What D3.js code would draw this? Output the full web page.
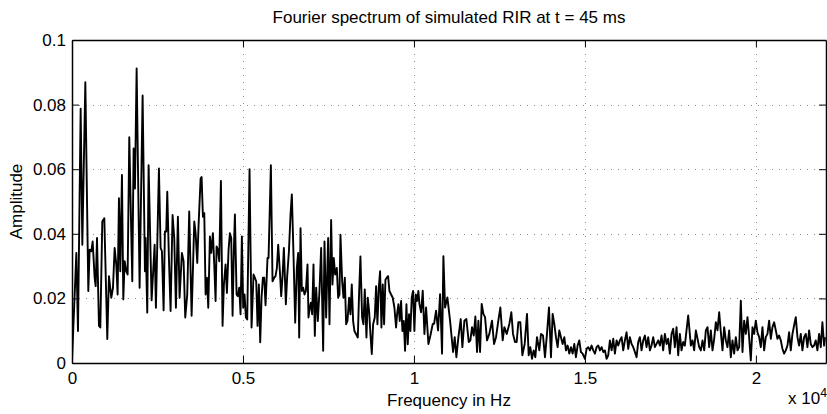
<!DOCTYPE html>
<html>
<head>
<meta charset="utf-8">
<script src="https://cdn.jsdelivr.net/npm/d3@7"></script>
<style>
  html, body { margin: 0; padding: 0; background: #fff; }
  svg { display: block; }
  text { font-family: "Liberation Sans", Arial, Helvetica, sans-serif; fill: #000; }
</style>
</head>
<body>
<svg id="chart" width="827" height="414"></svg>
<script>
// ---- data ----
const titleText = "Fourier spectrum of simulated RIR at t = 45 ms";
const xLabel = "Frequency in Hz";
const yLabel = "Amplitude";
const xTickValues = [0, 5000, 10000, 15000, 20000];
const xTickLabels = ["0", "0.5", "1", "1.5", "2"];
const yTickValues = [0, 0.02, 0.04, 0.06, 0.08, 0.1];
const yTickLabels = ["0", "0.02", "0.04", "0.06", "0.08", "0.1"];
const xDomain = [0, 22050];
const yDomain = [0, 0.1];

const frequencyHz = [
  0,127,175,253,302,390,477,516,565,604, 662,692,731,789,828,886,945,1032,1081,1149,
  1198,1247,1295,1334,1373,1412,1461,1500,1539,1588, 1627,1675,1763,1802,1841,1890,1977,2065,2133,2153,
  2201,2240,2328,2416,2454,2542,2591,2630,2679,2717, 2756,2786,2834,2883,2941,2990,3039,3097,3146,3214,
  3263,3312,3370,3428,
  3498,3576,3615,3663,3702,3761,3790,3829,3868,3907, 3946,3985,4033,4072,4121,4160,4199,4228,4267,4306,
  4355,4403,4442,4491,4530,4579,4618,4657,4696,4735, 4764,4813,4852,4890,4929,4968,5007,5046,5085,5124,
  5192,5251,5309,5348,5387,5426,5465,5504,5543,5582, 5621,5660,5718,5748,5816,5864,5913,5952,5991,6030,
  6079,6118,6157,6196,6254,6293,6342,6390,6429,6478, 6527,6575,6614,6644,6683,6722,6761,6800,6839,6887,
  6916,
  6945,6984,7023,7062,7101,7140,7189,7237,7286,7345, 7384,7432,7491,7530,7578,7617,7656,7695,7744,7783,
  7822,7851,7900,7939,7978,8017,8056,8104,8143,8182, 8221,8260,8309,8358,8396,8435,8484,8523,8562,8611,
  8650,8689,8728,8767,8806,8854,8893,8932,8971,9010, 9049,9088,9127,9166,9205,9244,9283,9332,9380,9429,
  9477,9507,9546,9585,9624,9663,9702,9740,9780,9819, 9857,9896,9935,9974,10013,10052,10091,10130,
  10160,10209,10257,10306,10355,10423,10481,10550,10589,10647, 10705,10764,10822,10861,10910,10978,11056,11144,11192,11241,
  11300,11368,11416,11475,11533,11602,11650,11699,11748,11796, 11845,11884,11933,11981,12030,12079,12137,12205,12283,12342,
  12400,12468,12527,12595,12644,12712,12790,12848,12897,12955, 13004,13053,13111,13170,13238,13306,13355,13403,13452,13501,
  13550,13598,13666,13715,13774,13832,13890,13949,
  14007,14056,14104,14153,14202,14250,14299,14348,14397,14445, 14494,14543,14591,14640,14689,14737,14786,14835,14884,14932,
  15000,15049,15098,15146,15195,15244,15293,15341,15390,15439, 15487,15536,15585,15633,15682,15731,15780,15828,15877,15926,
  15974,16023,16072,16120,16169,16218,16267,16315,16364,16413, 16461,16510,16559,16607,16656,16705,16754,16802,16851,16900,
  16948,16997,17046,17094,17143,17192,17241,17289,17338,17387, 17435,17484,17533,17581,17630,17679,17728,17776,17825,17874,
  17922,17971,18020,
  18098,18147,18195,18244,18293,18341,18390,18439,18488,18536, 18585,18634,18682,18731,18780,18828,18877,18926,18975,19023,
  19072,19121,19169,19218,19267,19315,19364,19413,19462,19510, 19559,19608,19656,19705,19754,19802,19851,19900,19949,19997,
  20046,20095,20143,20192,20241,20289,20338,20387,20436,20484, 20533,20582,20630,20679,20728,20776,20825,20874,20923,20971,
  21020,21069,21117,21166,21215,21263,21312,21361,21410,21458, 21507,21556,21604,21653,21702,21750,21799,21848,21897,21945,
  21994,22023
];

const amplitude = [
  0.0007,0.0341,0.0099,0.0787,0.0366,0.0869,0.0223,0.0351,0.0346,0.0376, 0.0264,0.0238,0.0387,0.0115,0.0110,0.0438,0.0448,0.0074,0.0269,0.0202,
  0.0233,0.0356,0.0305,0.0212,0.0510,0.0284,0.0582,0.0197,0.0315,0.0284, 0.0274,0.0699,0.0253,0.0664,0.0540,0.0912,0.0233,0.0828,0.0284,0.0387,
  0.0156,0.0612,0.0194,0.0366,0.0171,0.0602,0.0356,0.0346,0.0163,0.0407, 0.0407,0.0530,0.0325,0.0161,0.0458,0.0387,0.0171,0.0453,0.0202,0.0341,
  0.0315,0.0141,0.0212,0.0469,
  0.0146,0.0438,0.0402,0.0310,0.0428,0.0571,0.0576,0.0453,0.0464,0.0212, 0.0264,0.0171,0.0392,0.0341,0.0402,0.0305,0.0192,0.0361,0.0351,0.0315,
  0.0564,0.0115,0.0243,0.0305,0.0217,0.0351,0.0402,0.0387,0.0146,0.0356, 0.0460,0.0212,0.0207,0.0233,0.0151,0.0392,0.0171,0.0212,0.0141,0.0135,
  0.0600,0.0110,0.0274,0.0264,0.0253,0.0115,0.0243,0.0064,0.0202,0.0264, 0.0264,0.0179,0.0325,0.0325,0.0612,0.0253,0.0264,0.0269,0.0294,0.0366,
  0.0284,0.0207,0.0269,0.0356,0.0182,0.0269,0.0343,0.0458,0.0522,0.0333, 0.0125,0.0294,0.0341,0.0079,0.0417,0.0223,0.0233,0.0212,0.0223,0.0305,
  0.0141,
  0.0166,0.0187,0.0151,0.0305,0.0084,0.0233,0.0130,0.0223,0.0356,0.0038, 0.0376,0.0141,0.0387,0.0120,0.0443,0.0243,0.0325,0.0274,0.0294,0.0202,
  0.0212,0.0397,0.0253,0.0202,0.0264,0.0120,0.0130,0.0202,0.0151,0.0243, 0.0130,0.0099,0.0089,0.0079,0.0217,0.0330,0.0141,0.0120,0.0228,0.0079,
  0.0202,0.0161,0.0089,0.0028,0.0120,0.0141,0.0238,0.0120,0.0233,0.0284, 0.0110,0.0243,0.0120,0.0258,0.0264,0.0269,0.0223,0.0212,0.0202,0.0171,
  0.0110,0.0151,0.0182,0.0130,0.0192,0.0099,0.0130,0.0038,0.0182,0.0058, 0.0151,0.0099,0.0202,0.0223,0.0099,0.0212,0.0192,0.0223,
  0.0183,0.0157,0.0224,0.0090,0.0172,0.0059,0.0085,0.0121,0.0121,0.0162, 0.0101,0.0213,0.0029,0.0331,0.0172,0.0203,0.0131,0.0034,0.0080,0.0018,
  0.0080,0.0136,0.0049,0.0131,0.0136,0.0065,0.0070,0.0111,0.0085,0.0144, 0.0034,0.0131,0.0034,0.0183,0.0152,0.0142,0.0070,0.0090,0.0131,0.0059,
  0.0080,0.0131,0.0172,0.0070,0.0111,0.0090,0.0121,0.0157,0.0090,0.0065, 0.0065,0.0126,0.0126,0.0024,0.0059,0.0152,0.0024,0.0049,0.0013,0.0039,
  0.0018,0.0080,0.0039,0.0090,0.0085,0.0018,0.0090,0.0172,
  0.0018,0.0152,0.0121,0.0080,0.0049,0.0101,0.0080,0.0059,0.0080,0.0039, 0.0054,0.0029,0.0049,0.0029,0.0059,0.0018,0.0054,0.0070,0.0034,0.0029,
  0.0013,0.0044,0.0049,0.0039,0.0054,0.0039,0.0029,0.0049,0.0054,0.0039, 0.0049,0.0034,0.0039,0.0013,0.0024,0.0070,0.0039,0.0075,0.0029,0.0070,
  0.0054,0.0070,0.0080,0.0039,0.0070,0.0095,0.0044,0.0080,0.0059,0.0049, 0.0034,0.0018,0.0065,0.0080,0.0039,0.0070,0.0085,0.0049,0.0080,0.0039,
  0.0054,0.0080,0.0049,0.0059,0.0070,0.0054,0.0085,0.0039,0.0090,0.0059, 0.0075,0.0029,0.0090,0.0106,0.0049,0.0111,0.0024,0.0090,0.0039,0.0065,
  0.0054,0.0101,0.0147,
  0.0054,0.0070,0.0039,0.0101,0.0075,0.0049,0.0039,0.0070,0.0039,0.0101, 0.0111,0.0049,0.0101,0.0039,0.0075,0.0126,0.0101,0.0157,0.0095,0.0039,
  0.0111,0.0070,0.0049,0.0101,0.0018,0.0070,0.0029,0.0080,0.0039,0.0049, 0.0193,0.0034,0.0131,0.0090,0.0142,0.0080,0.0008,0.0111,0.0090,0.0131,
  0.0095,0.0080,0.0049,0.0111,0.0039,0.0080,0.0090,0.0131,0.0075,0.0111, 0.0126,0.0101,0.0075,0.0085,0.0070,0.0044,0.0029,0.0039,0.0054,0.0095,
  0.0039,0.0090,0.0116,0.0142,0.0080,0.0054,0.0090,0.0039,0.0080,0.0090, 0.0049,0.0101,0.0059,0.0049,0.0054,0.0070,0.0039,0.0090,0.0049,0.0126,
  0.0054,0.0080
];

// ---- layout ----
const W = 827, H = 414;
const plot = { left: 72, right: 826, top: 40, bottom: 363 };
const FONT = 17;
const tickLen = 7;

const svg = d3.select("#chart");
const x = d3.scaleLinear().domain(xDomain).range([plot.left, plot.right]);
const y = d3.scaleLinear().domain(yDomain).range([plot.bottom, plot.top]);

const n = Math.min(frequencyHz.length, amplitude.length);
const points = d3.range(n).map(i => [frequencyHz[i], amplitude[i]]);

// grid (dotted)
const grid = svg.append("g").attr("stroke", "#8c8c8c").attr("stroke-width", 1)
  .attr("stroke-dasharray", "1,6").attr("fill", "none");
grid.selectAll("line.gx").data(xTickValues.filter(v => v > xDomain[0])).join("line")
  .attr("x1", d => Math.round(x(d)) + 0.5).attr("x2", d => Math.round(x(d)) + 0.5)
  .attr("y1", plot.top).attr("y2", plot.bottom);
grid.selectAll("line.gy").data(yTickValues.filter(v => v > yDomain[0] && v < yDomain[1])).join("line")
  .attr("y1", d => Math.round(y(d)) + 0.5).attr("y2", d => Math.round(y(d)) + 0.5)
  .attr("x1", plot.left).attr("x2", plot.right);

// data line
svg.append("clipPath").attr("id", "clip").append("rect")
  .attr("x", plot.left).attr("y", plot.top).attr("width", plot.right - plot.left).attr("height", plot.bottom - plot.top);
svg.append("path").datum(points)
  .attr("clip-path", "url(#clip)")
  .attr("fill", "none").attr("stroke", "#000").attr("stroke-width", 1.9)
  .attr("stroke-linejoin", "round")
  .attr("d", d3.line().x(d => x(d[0])).y(d => y(d[1])));

// axes
const xAxis = d3.axisBottom(x).tickValues(xTickValues)
  .tickFormat((d, i) => xTickLabels[i]).tickSizeInner(-tickLen).tickSizeOuter(0).tickPadding(9);
const gx = svg.append("g").attr("transform", `translate(0,${plot.bottom})`).call(xAxis);
const yAxis = d3.axisLeft(y).tickValues(yTickValues)
  .tickFormat((d, i) => yTickLabels[i]).tickSizeInner(-tickLen).tickSizeOuter(0).tickPadding(6);
const gy = svg.append("g").attr("transform", `translate(${plot.left},0)`).call(yAxis);
const xAxisTop = d3.axisTop(x).tickValues(xTickValues).tickFormat("").tickSizeInner(-tickLen).tickSizeOuter(0);
const gxt = svg.append("g").attr("transform", `translate(0,${plot.top})`).call(xAxisTop);
const yAxisRight = d3.axisRight(y).tickValues(yTickValues).tickFormat("").tickSizeInner(-tickLen).tickSizeOuter(0);
const gyr = svg.append("g").attr("transform", `translate(${plot.right},0)`).call(yAxisRight);

[gx, gy, gxt, gyr].forEach(g => {
  g.select(".domain").attr("stroke", "#000").attr("stroke-width", 1.5);
  g.selectAll(".tick line").attr("stroke", "#000").attr("stroke-width", 1);
  g.selectAll(".tick text").attr("font-size", FONT).attr("font-family", "Liberation Sans, Arial, sans-serif").attr("fill", "#000");
});

// title and labels
svg.append("text").attr("x", (plot.left + plot.right) / 2).attr("y", 23)
  .attr("text-anchor", "middle").attr("font-size", FONT).text(titleText);
svg.append("text").attr("x", (plot.left + plot.right) / 2).attr("y", 406)
  .attr("text-anchor", "middle").attr("font-size", FONT).text(xLabel);
svg.append("text").attr("transform", `translate(22,${(plot.top + plot.bottom) / 2}) rotate(-90)`)
  .attr("text-anchor", "middle").attr("font-size", FONT).text(yLabel);
const mult = svg.append("text").attr("x", 788).attr("y", 404).attr("font-size", FONT);
mult.append("tspan").text("x 10");
mult.append("tspan").attr("dy", -7).attr("font-size", FONT * 0.72).text("4");
</script>
</body>
</html>
